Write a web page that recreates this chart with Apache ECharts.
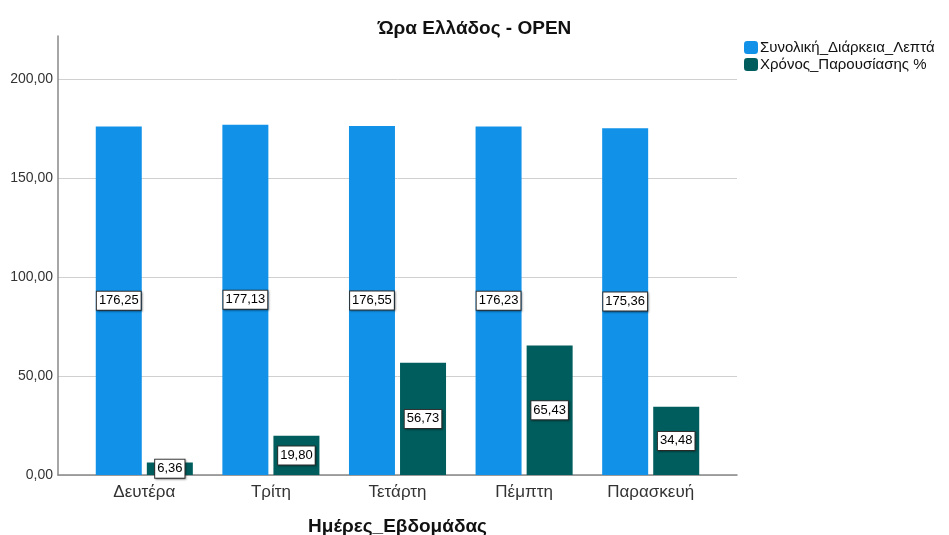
<!DOCTYPE html>
<html><head><meta charset="utf-8">
<script src="https://cdn.jsdelivr.net/npm/echarts@6/dist/echarts.min.js"></script>
<style>html,body{margin:0;padding:0;background:#fff}#c{width:949px;height:535px}</style>
</head><body><div id="c"></div>
<script>
var categories = ['Δευτέρα', 'Τρίτη', 'Τετάρτη', 'Πέμπτη', 'Παρασκευή'];
var durationValues = [176.25, 177.13, 176.55, 176.23, 175.36];
var presenceValues = [6.36, 19.80, 56.73, 65.43, 34.48];
var seriesNames = ['Συνολική_Διάρκεια_Λεπτά', 'Χρόνος_Παρουσίασης %'];
var yMin = 0, yMax = 222, yInterval = 50;

function fmt(v){ return v.toFixed(2).replace('.', ','); }
var F = 'Liberation Sans, Arial, sans-serif';
var labelStyle = {
  show: true, position: 'inside', formatter: function(p){ return fmt(p.value); },
  color: '#000', fontSize: 13, fontFamily: F,
  backgroundColor: '#fff', borderColor: '#333', borderWidth: 1,
  padding: [3, 2, 2, 2],
  shadowColor: 'rgba(0,0,0,0.3)', shadowBlur: 2, shadowOffsetX: 1, shadowOffsetY: 1
};
var chart = echarts.init(document.getElementById('c'), null, {renderer: 'canvas'});
chart.setOption({
  animation: false,
  backgroundColor: '#fff',
  title: {text: 'Ώρα Ελλάδος - OPEN', left: 'center', top: 14,
    textStyle: {fontFamily: F, fontSize: 19, fontWeight: 'bold', color: '#111'}},
  legend: {orient: 'vertical', left: 739, top: 35, itemWidth: 14, itemHeight: 13, itemGap: 2,
    textStyle: {fontFamily: F, fontSize: 15, color: '#111', padding: [0,0,0,-3]},
    data: seriesNames},
  grid: [
    {left: 58, right: 212, top: 36, bottom: 60, outerBoundsMode: 'none', containLabel: false},
    {left: 81, right: 235, top: 36, bottom: 60, outerBoundsMode: 'none', containLabel: false}
  ],
  xAxis: [
    {gridIndex: 0, type: 'value', min: 0, max: 1, show: true,
      axisLine: {show: true, lineStyle: {color: '#888', width: 1.5}},
      axisTick: {show: false}, axisLabel: {show: false}, splitLine: {show: false},
      name: 'Ημέρες_Εβδομάδας', nameLocation: 'middle', nameGap: 42,
      nameTextStyle: {fontFamily: F, fontSize: 19, fontWeight: 'bold', color: '#111'}},
    {gridIndex: 1, type: 'category', data: categories,
      axisLine: {show: false}, axisTick: {show: false},
      axisLabel: {fontFamily: F, fontSize: 17, color: '#333', margin: 9}}
  ],
  yAxis: [
    {gridIndex: 0, type: 'value', min: yMin, max: yMax, interval: yInterval,
      axisLine: {show: true, lineStyle: {color: '#888', width: 1.5}},
      axisTick: {show: false},
      axisLabel: {showMaxLabel: false, fontFamily: F, fontSize: 14, color: '#333', margin: 5,
        formatter: function(v){ return fmt(v); }},
      splitLine: {show: true, lineStyle: {color: ['#d0d0d0','#d0d0d0','#d0d0d0','#d0d0d0','#d0d0d0','rgba(0,0,0,0)'], width: 1}}},
    {gridIndex: 1, type: 'value', min: yMin, max: yMax, interval: yInterval, show: false}
  ],
  series: [
    {name: seriesNames[0], type: 'bar', xAxisIndex: 1, yAxisIndex: 1, data: durationValues,
      barWidth: 46, barGap: '11%', itemStyle: {color: '#1192e8'}, label: labelStyle},
    {name: seriesNames[1], type: 'bar', xAxisIndex: 1, yAxisIndex: 1, data: presenceValues,
      barWidth: 46, barGap: '11%', itemStyle: {color: '#005d5d'}, label: labelStyle}
  ]
});
</script></body></html>
